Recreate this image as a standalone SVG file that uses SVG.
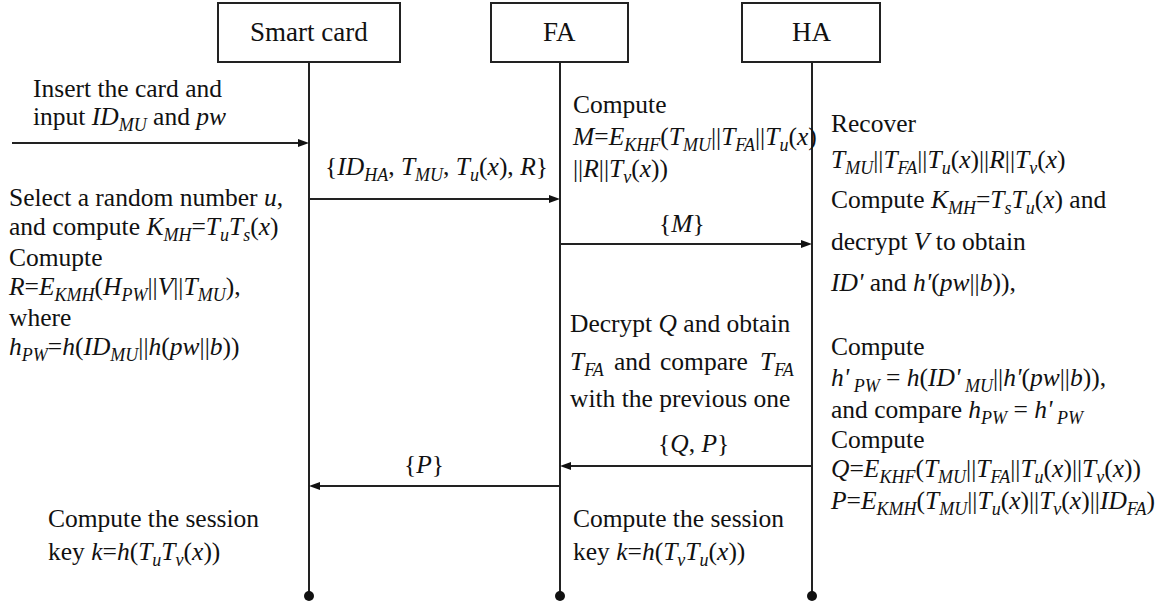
<svg xmlns="http://www.w3.org/2000/svg" width="1176" height="608" viewBox="0 0 1176 608">
  <style>
    text { font-family: 'Liberation Serif'; font-size: 25.5px; fill: #111; }
    .i { font-style: italic; }
    .s { font-size: 18px; font-style: italic; }
    .hd { font-size: 27px; }
    .box { fill: #fff; stroke: #222; stroke-width: 2; }
    .life { stroke: #222; stroke-width: 2; fill: none; }
    .msg { stroke: #222; stroke-width: 2; fill: none; }
    .head { fill: #111; }
    .dot { fill: #111; }
  </style>

  <rect width="1176" height="608" fill="#fff"/>

  <!-- lifelines and message arrows -->
  <g id="connectors">
    <line class="life" x1="309" y1="62" x2="309" y2="596"/>
    <line class="life" x1="560" y1="62" x2="560" y2="596"/>
    <line class="life" x1="812" y1="62" x2="812" y2="596"/>
    <circle class="dot" cx="309" cy="596" r="5"/>
    <circle class="dot" cx="560" cy="596" r="5"/>
    <circle class="dot" cx="812" cy="596" r="5"/>

    <line class="msg" x1="12" y1="143" x2="300" y2="143"/>
    <polygon class="head" points="298,139 309,143 298,147"/>
    <line class="msg" x1="309" y1="199" x2="551" y2="199"/>
    <polygon class="head" points="549,195 560,199 549,203"/>
    <line class="msg" x1="560" y1="244" x2="803" y2="244"/>
    <polygon class="head" points="801,240 812,244 801,248"/>
    <line class="msg" x1="812" y1="466" x2="569" y2="466"/>
    <polygon class="head" points="571,462 560,466 571,470"/>
    <line class="msg" x1="560" y1="486" x2="318" y2="486"/>
    <polygon class="head" points="320,482 309,486 320,490"/>

    <text x="325" y="175">{<tspan class="i">ID</tspan><tspan class="s" dy="6">HA</tspan><tspan dy="-6">, </tspan><tspan class="i">T</tspan><tspan class="s" dy="6">MU</tspan><tspan dy="-6">, </tspan><tspan class="i">T</tspan><tspan class="s" dy="6">u</tspan><tspan dy="-6">(</tspan><tspan class="i">x</tspan>), <tspan class="i">R</tspan>}</text>
    <text x="659" y="232">{<tspan class="i">M</tspan>}</text>
    <text x="658" y="452">{<tspan class="i">Q</tspan>, <tspan class="i">P</tspan>}</text>
    <text x="404" y="473">{<tspan class="i">P</tspan>}</text>
  </g>

  <!-- participants -->
  <g id="smart-card">
    <rect class="box" x="218" y="3" width="182" height="59"/>
    <text class="hd" x="250" y="41">Smart card</text>
  </g>
  <g id="fa">
    <rect class="box" x="491" y="3" width="137" height="59"/>
    <text class="hd" x="543" y="41">FA</text>
  </g>
  <g id="ha">
    <rect class="box" x="742" y="3" width="138" height="59"/>
    <text class="hd" x="792" y="41">HA</text>
  </g>

  <!-- smart card side steps -->
  <g id="card-steps">
    <text x="33" y="97">Insert the card and</text>
    <text x="33" y="125">input <tspan class="i">ID</tspan><tspan class="s" dy="6">MU</tspan><tspan dy="-6"> and </tspan><tspan class="i">pw</tspan></text>

    <text x="9" y="206">Select a random number <tspan class="i">u</tspan>,</text>
    <text x="9" y="235">and compute <tspan class="i">K</tspan><tspan class="s" dy="6">MH</tspan><tspan dy="-6">=</tspan><tspan class="i">T</tspan><tspan class="s" dy="6">u</tspan><tspan class="i" dy="-6">T</tspan><tspan class="s" dy="6">s</tspan><tspan dy="-6">(</tspan><tspan class="i">x</tspan>)</text>
    <text x="9" y="266">Comupte</text>
    <text x="9" y="295"><tspan class="i">R</tspan>=<tspan class="i">E</tspan><tspan class="s" dy="6">KMH</tspan><tspan dy="-6">(</tspan><tspan class="i">H</tspan><tspan class="s" dy="6">PW</tspan><tspan dy="-6">||</tspan><tspan class="i">V</tspan>||<tspan class="i">T</tspan><tspan class="s" dy="6">MU</tspan><tspan dy="-6">),</tspan></text>
    <text x="9" y="326">where</text>
    <text x="9" y="355"><tspan class="i">h</tspan><tspan class="s" dy="6">PW</tspan><tspan dy="-6">=</tspan><tspan class="i">h</tspan>(<tspan class="i">ID</tspan><tspan class="s" dy="6">MU</tspan><tspan dy="-6">||</tspan><tspan class="i">h</tspan>(<tspan class="i">pw</tspan>||<tspan class="i">b</tspan>))</text>

    <text x="48" y="527">Compute the session</text>
    <text x="48" y="560">key <tspan class="i">k</tspan>=<tspan class="i">h</tspan>(<tspan class="i">T</tspan><tspan class="s" dy="6">u</tspan><tspan class="i" dy="-6">T</tspan><tspan class="s" dy="6">v</tspan><tspan dy="-6">(</tspan><tspan class="i">x</tspan>))</text>
  </g>

  <!-- FA side steps -->
  <g id="fa-steps">
    <text x="573" y="113">Compute</text>
    <text x="573" y="145"><tspan class="i">M</tspan>=<tspan class="i">E</tspan><tspan class="s" dy="6">KHF</tspan><tspan dy="-6">(</tspan><tspan class="i">T</tspan><tspan class="s" dy="6">MU</tspan><tspan dy="-6">||</tspan><tspan class="i">T</tspan><tspan class="s" dy="6">FA</tspan><tspan dy="-6">||</tspan><tspan class="i">T</tspan><tspan class="s" dy="6">u</tspan><tspan dy="-6">(</tspan><tspan class="i">x</tspan>)</text>
    <text x="573" y="177">||<tspan class="i">R</tspan>||<tspan class="i">T</tspan><tspan class="s" dy="6">v</tspan><tspan dy="-6">(</tspan><tspan class="i">x</tspan>))</text>

    <text x="570" y="332">Decrypt <tspan class="i">Q</tspan> and obtain</text>
    <text x="570" y="370"><tspan class="i">T</tspan><tspan class="s" dy="6">FA</tspan><tspan x="614" dy="-6">and</tspan><tspan x="660">compare</tspan><tspan x="760" class="i">T</tspan><tspan class="s" dy="6">FA</tspan></text>
    <text x="570" y="407">with the previous one</text>

    <text x="573" y="527">Compute the session</text>
    <text x="573" y="560">key <tspan class="i">k</tspan>=<tspan class="i">h</tspan>(<tspan class="i">T</tspan><tspan class="s" dy="6">v</tspan><tspan class="i" dy="-6">T</tspan><tspan class="s" dy="6">u</tspan><tspan dy="-6">(</tspan><tspan class="i">x</tspan>))</text>
  </g>

  <!-- HA side steps -->
  <g id="ha-steps">
    <text x="831" y="132">Recover</text>
    <text x="831" y="168"><tspan class="i">T</tspan><tspan class="s" dy="6">MU</tspan><tspan dy="-6">||</tspan><tspan class="i">T</tspan><tspan class="s" dy="6">FA</tspan><tspan dy="-6">||</tspan><tspan class="i">T</tspan><tspan class="s" dy="6">u</tspan><tspan dy="-6">(</tspan><tspan class="i">x</tspan>)||<tspan class="i">R</tspan>||<tspan class="i">T</tspan><tspan class="s" dy="6">v</tspan><tspan dy="-6">(</tspan><tspan class="i">x</tspan>)</text>
    <text x="831" y="208">Compute <tspan class="i">K</tspan><tspan class="s" dy="6">MH</tspan><tspan dy="-6">=</tspan><tspan class="i">T</tspan><tspan class="s" dy="6">s</tspan><tspan class="i" dy="-6">T</tspan><tspan class="s" dy="6">u</tspan><tspan dy="-6">(</tspan><tspan class="i">x</tspan>) and</text>
    <text x="831" y="250">decrypt <tspan class="i">V</tspan> to obtain</text>
    <text x="831" y="291"><tspan class="i">ID'</tspan>  and <tspan class="i">h'</tspan>(<tspan class="i">pw</tspan>||<tspan class="i">b</tspan>)),</text>

    <text x="831" y="355">Compute</text>
    <text x="831" y="386"><tspan class="i">h'</tspan><tspan class="s" dy="6"> PW</tspan><tspan dy="-6"> = </tspan><tspan class="i">h</tspan>(<tspan class="i">ID'</tspan><tspan class="s" dy="6"> MU</tspan><tspan dy="-6">||</tspan><tspan class="i">h'</tspan>(<tspan class="i">pw</tspan>||<tspan class="i">b</tspan>)),</text>
    <text x="831" y="418">and compare  <tspan class="i">h</tspan><tspan class="s" dy="6">PW</tspan><tspan dy="-6"> = </tspan><tspan class="i">h'</tspan><tspan class="s" dy="6"> PW</tspan></text>
    <text x="831" y="448">Compute</text>
    <text x="831" y="477"><tspan class="i">Q</tspan>=<tspan class="i">E</tspan><tspan class="s" dy="6">KHF</tspan><tspan dy="-6">(</tspan><tspan class="i">T</tspan><tspan class="s" dy="6">MU</tspan><tspan dy="-6">||</tspan><tspan class="i">T</tspan><tspan class="s" dy="6">FA</tspan><tspan dy="-6">||</tspan><tspan class="i">T</tspan><tspan class="s" dy="6">u</tspan><tspan dy="-6">(</tspan><tspan class="i">x</tspan>)||<tspan class="i">T</tspan><tspan class="s" dy="6">v</tspan><tspan dy="-6">(</tspan><tspan class="i">x</tspan>))</text>
    <text x="831" y="509"><tspan class="i">P</tspan>=<tspan class="i">E</tspan><tspan class="s" dy="6">KMH</tspan><tspan dy="-6">(</tspan><tspan class="i">T</tspan><tspan class="s" dy="6">MU</tspan><tspan dy="-6">||</tspan><tspan class="i">T</tspan><tspan class="s" dy="6">u</tspan><tspan dy="-6">(</tspan><tspan class="i">x</tspan>)||<tspan class="i">T</tspan><tspan class="s" dy="6">v</tspan><tspan dy="-6">(</tspan><tspan class="i">x</tspan>)||<tspan class="i">ID</tspan><tspan class="s" dy="6">FA</tspan><tspan dy="-6">)</tspan></text>
  </g>
</svg>
